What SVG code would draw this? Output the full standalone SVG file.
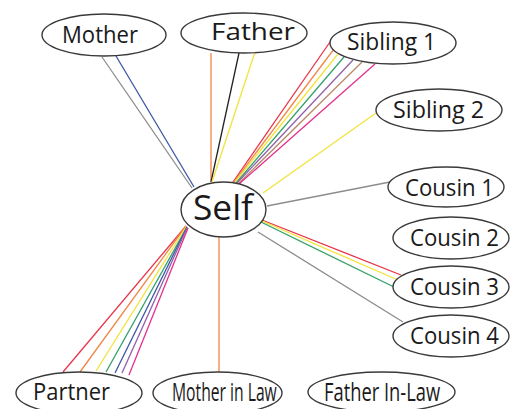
<svg xmlns="http://www.w3.org/2000/svg" width="512" height="409" viewBox="0 0 512 409">
  <style>
    .node ellipse { fill: #ffffff; stroke: #3a3a3a; stroke-width: 1.4; }
    .node text { font-family: "Open Sans", "Noto Sans", "Liberation Sans", sans-serif; font-size: 24px; fill: #1a1a1a; text-anchor: start; }
    .node text.tall { font-size: 26px; }
    .links line { stroke-width: 1.3; fill: none; }
    .red { stroke: #e8344a; }
    .orange { stroke: #f08646; }
    .yellow { stroke: #f2e33c; }
    .green { stroke: #34a06a; }
    .blue { stroke: #3e56a6; }
    .purple { stroke: #9160aa; }
    .tan { stroke: #b88a6a; }
    .magenta { stroke: #e2308c; }
    .gray { stroke: #8c8c8c; }
    .black { stroke: #222222; }
  </style>
  <rect width="512" height="409" fill="#ffffff"/>

  <g class="links">
    <!-- Mother -->
    <line class="gray" x1="102" y1="57" x2="192" y2="188"/>
    <line class="blue" x1="116" y1="56" x2="194" y2="187"/>
    <!-- Father -->
    <line class="orange" x1="211" y1="53" x2="211" y2="182"/>
    <line class="black" x1="239" y1="53" x2="211" y2="182"/>
    <line class="yellow" x1="255" y1="52" x2="212" y2="182"/>
    <!-- Sibling 1 -->
    <line class="red" x1="330" y1="42" x2="233" y2="182"/>
    <line class="orange" x1="334" y1="49" x2="234" y2="182"/>
    <line class="yellow" x1="338" y1="54" x2="235" y2="182"/>
    <line class="green" x1="344" y1="57" x2="236" y2="183"/>
    <line class="purple" x1="353" y1="60" x2="237" y2="183"/>
    <line class="tan" x1="362" y1="62" x2="238" y2="184"/>
    <line class="magenta" x1="375" y1="64" x2="239" y2="184"/>
    <!-- Sibling 2 -->
    <line class="yellow" x1="376" y1="113" x2="263" y2="193"/>
    <!-- Cousin 1 -->
    <line class="gray" x1="390" y1="182" x2="267" y2="206"/>
    <!-- Cousin 3 -->
    <line class="red" x1="401" y1="275" x2="262" y2="220"/>
    <line class="yellow" x1="398" y1="280" x2="262" y2="221"/>
    <line class="green" x1="394" y1="287" x2="261" y2="222"/>
    <!-- Cousin 4 -->
    <line class="gray" x1="403" y1="322" x2="258" y2="232"/>
    <!-- Partner -->
    <line class="red" x1="63" y1="372" x2="186" y2="226"/>
    <line class="orange" x1="80" y1="372" x2="186" y2="226"/>
    <line class="yellow" x1="96" y1="371" x2="186" y2="227"/>
    <line class="green" x1="106" y1="372" x2="187" y2="227"/>
    <line class="blue" x1="115" y1="373" x2="187" y2="227"/>
    <line class="purple" x1="122" y1="373" x2="187" y2="228"/>
    <line class="magenta" x1="129" y1="375" x2="188" y2="228"/>
    <!-- Mother in Law -->
    <line class="orange" x1="219" y1="237" x2="219" y2="372"/>
  </g>

  <g id="mother" class="node">
    <ellipse cx="104" cy="35" rx="62" ry="21"/>
    <text x="62" y="43" textLength="76" lengthAdjust="spacingAndGlyphs">Mother</text>
  </g>
  <g id="father" class="node">
    <ellipse cx="244" cy="33" rx="63" ry="20"/>
    <text x="211" y="40" textLength="84" lengthAdjust="spacingAndGlyphs">Father</text>
  </g>
  <g id="sibling1" class="node">
    <ellipse cx="393" cy="43" rx="63" ry="21"/>
    <text x="347" y="50" textLength="89" lengthAdjust="spacingAndGlyphs">Sibling 1</text>
  </g>
  <g id="sibling2" class="node">
    <ellipse cx="439" cy="110" rx="63" ry="21"/>
    <text x="393" y="118" textLength="91" lengthAdjust="spacingAndGlyphs">Sibling 2</text>
  </g>
  <g id="self" class="node">
    <ellipse cx="223.5" cy="209.5" rx="42.5" ry="27.5"/>
    <text x="193" y="220" style="font-size:35px" textLength="60" lengthAdjust="spacingAndGlyphs">Self</text>
  </g>
  <g id="cousin1" class="node">
    <ellipse cx="446" cy="187" rx="58" ry="20"/>
    <text x="405" y="196" textLength="89" lengthAdjust="spacingAndGlyphs">Cousin 1</text>
  </g>
  <g id="cousin2" class="node">
    <ellipse cx="451" cy="238" rx="58" ry="21"/>
    <text x="410" y="246" textLength="89" lengthAdjust="spacingAndGlyphs">Cousin 2</text>
  </g>
  <g id="cousin3" class="node">
    <ellipse cx="451" cy="287" rx="58" ry="21"/>
    <text x="410" y="295" textLength="89" lengthAdjust="spacingAndGlyphs">Cousin 3</text>
  </g>
  <g id="cousin4" class="node">
    <ellipse cx="451" cy="336" rx="58" ry="21"/>
    <text x="410" y="344" textLength="89" lengthAdjust="spacingAndGlyphs">Cousin 4</text>
  </g>
  <g id="partner" class="node">
    <ellipse cx="79" cy="393" rx="63" ry="21"/>
    <text x="33" y="400" textLength="77" lengthAdjust="spacingAndGlyphs">Partner</text>
  </g>
  <!-- condensed labels: horizontal squeeze via transform -->
  <g id="mother-in-law" class="node">
    <ellipse cx="217.5" cy="393" rx="64.5" ry="21"/>
    <text class="tall" transform="translate(172 401) scale(0.62 1)" x="0" y="0" textLength="169" lengthAdjust="spacingAndGlyphs">Mother in Law</text>
  </g>
  <g id="father-in-law" class="node">
    <ellipse cx="381.5" cy="392" rx="73.5" ry="20"/>
    <text class="tall" transform="translate(324 401) scale(0.7 1)" x="0" y="0" textLength="166" lengthAdjust="spacingAndGlyphs">Father In-Law</text>
  </g>
</svg>
